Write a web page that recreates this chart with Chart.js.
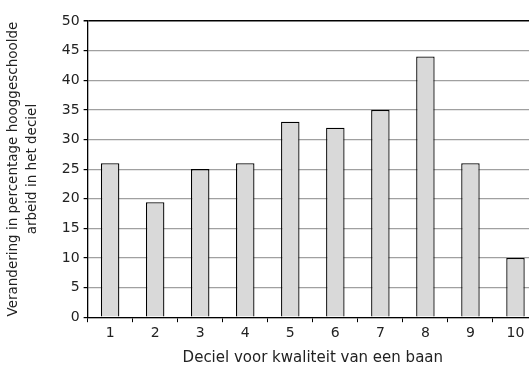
<!DOCTYPE html>
<html>
<head>
<meta charset="utf-8">
<script src="https://cdn.jsdelivr.net/npm/chart.js@4"></script>
<style>
html,body{margin:0;padding:0;overflow:hidden;background:#fff;}
#wrap{width:545px;height:367px;}
</style>
</head>
<body>
<div id="wrap"><canvas id="c" width="545" height="367"></canvas></div>
<script>
const categories = ["1","2","3","4","5","6","7","8","9","10"];
const values = [26, 19.4, 25, 26, 33, 32, 35, 44, 26, 10];
const yTicks = [0,5,10,15,20,25,30,35,40,45,50];
const xTitle = "Deciel voor kwaliteit van een baan";
const yTitle = ["Verandering in percentage hooggeschoolde", "arbeid in het deciel"];

const FONT = "'DejaVu Sans', sans-serif";
new Chart(document.getElementById('c'), {
  type: 'bar',
  data: {
    labels: categories,
    datasets: [{
      data: values,
      backgroundColor: '#d9d9d9',
      borderColor: '#000',
      borderWidth: 1.3,
      categoryPercentage: 1,
      barPercentage: 0.41
    }]
  },
  options: {
    responsive: false,
    animation: false,
    devicePixelRatio: 1,
    layout: { padding: { left: 4, right: 7, top: 21, bottom: 0 } },
    plugins: { legend: { display: false }, tooltip: { enabled: false } },
    scales: {
      x: {
        offset: true,
        grid: { offset: true, drawOnChartArea: false, color: '#000', tickLength: 5, lineWidth: 1 },
        border: { color: '#000', width: 1.3 },
        ticks: { color: '#222', font: { family: FONT, size: 14 }, padding: 3, maxRotation: 0 },
        title: { display: true, text: xTitle, color: '#222', font: { family: FONT, size: 15 }, padding: { top: 4, bottom: 0 } }
      },
      y: {
        min: 0, max: 50,
        afterBuildTicks: (axis) => { axis.ticks = yTicks.map(v => ({ value: v })); },
        grid: {
          color: (ctx) => ctx.tick && ctx.tick.value === 50 ? '#000' : '#a0a0a0',
          lineWidth: (ctx) => ctx.tick && ctx.tick.value === 50 ? 1.5 : 1.2,
          tickColor: '#000', tickLength: 4
        },
        border: { color: '#000', width: 1.3 },
        ticks: { color: '#222', font: { family: FONT, size: 14 }, padding: 4 },
        title: { display: true, text: yTitle, color: '#222', font: { family: FONT, size: 13.5, lineHeight: 1.4 }, padding: { top: 0, bottom: 16 } }
      }
    }
  }
});
</script>
</body>
</html>
